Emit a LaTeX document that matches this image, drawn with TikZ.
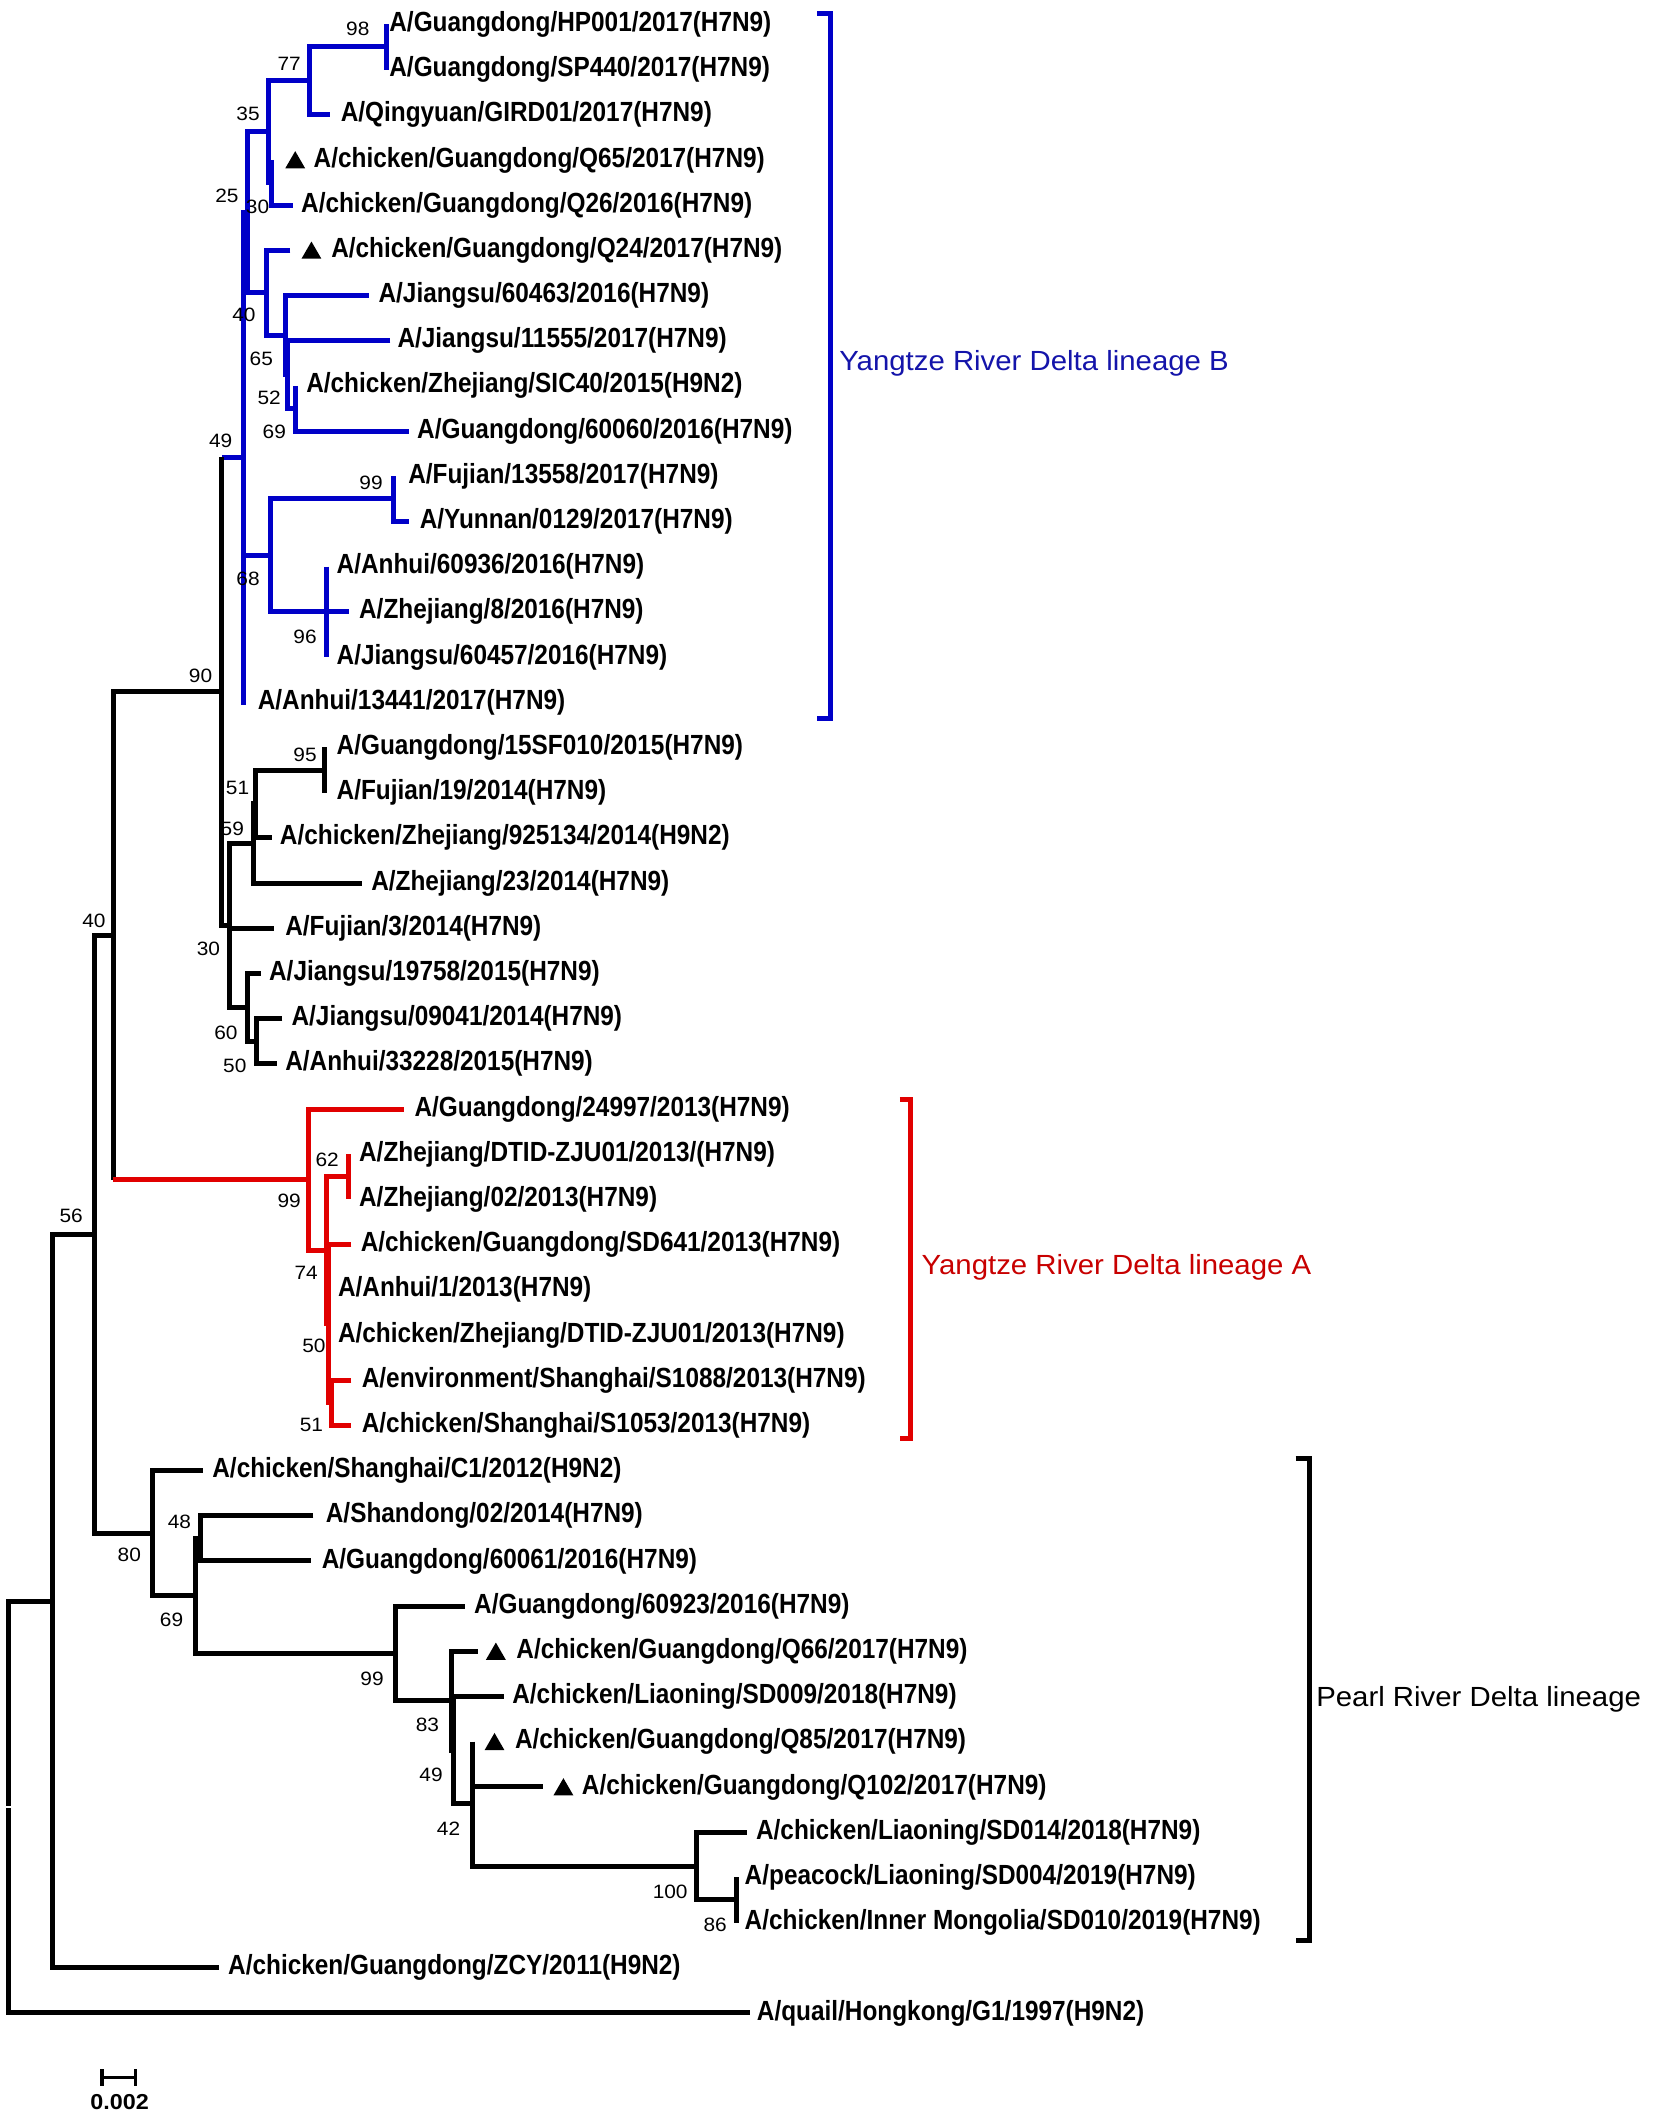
\documentclass[tikz,border=0pt]{standalone}
\usepackage{fontspec}
\usetikzlibrary{shapes.geometric,arrows.meta}
\newfontfamily\leaffont{Liberation Sans}[FakeStretch=0.88]
\newfontfamily\bootfont{Liberation Sans}[FakeStretch=1.08]
\newfontfamily\cladefont{Liberation Sans}[FakeStretch=1.06]
\definecolor{cladeB}{RGB}{0,0,200}
\definecolor{cladeBtext}{RGB}{20,20,170}
\definecolor{cladeA}{RGB}{225,0,0}
\definecolor{cladeAtext}{RGB}{200,0,0}
\begin{document}
\begin{tikzpicture}[x=1pt,y=-33.45pt,
  br/.style={line width=3.7pt,line join=miter},
  bbr/.style={br,color=cladeB},
  rbr/.style={br,color=cladeA},
  leaf/.style={anchor=west,inner sep=0pt,font={\leaffont\bfseries\fontsize{20.5}{22}\selectfont}},
  boot/.style={inner sep=0pt,font={\bootfont\fontsize{14.3}{16}\selectfont}},
  clade/.style={anchor=west,inner sep=0pt,font={\cladefont\fontsize{20.5}{23}\selectfont}},
  tri/.style={regular polygon,regular polygon sides=3,fill=black,inner sep=0pt,minimum size=17pt,yshift=-2pt}]
\path[use as bounding box,fill=white] (0,0.4619) rectangle (1224,47.37);

\coordinate (t1) at (286,1); \node[leaf] (s1) at (288,1) {A/Guangdong/HP001/2017(H7N9)};
\coordinate (t2) at (286,2); \node[leaf] (s2) at (288,2) {A/Guangdong/SP440/2017(H7N9)};
\coordinate (t3) at (244,3); \node[leaf] (s3) at (252,3) {A/Qingyuan/GIRD01/2017(H7N9)};
\coordinate (t4) at (201,4); \node[leaf] (s4) at (232,4) {A/chicken/Guangdong/Q65/2017(H7N9)};
\coordinate (t5) at (217,5); \node[leaf] (s5) at (222.7,5) {A/chicken/Guangdong/Q26/2016(H7N9)};
\coordinate (t6) at (215,6); \node[leaf] (s6) at (245,6) {A/chicken/Guangdong/Q24/2017(H7N9)};
\coordinate (t7) at (273,7); \node[leaf] (s7) at (280,7) {A/Jiangsu/60463/2016(H7N9)};
\coordinate (t8) at (289,8); \node[leaf] (s8) at (294,8) {A/Jiangsu/11555/2017(H7N9)};
\coordinate (t9) at (219,9); \node[leaf] (s9) at (226.5,9) {A/chicken/Zhejiang/SIC40/2015(H9N2)};
\coordinate (t10) at (303,10); \node[leaf] (s10) at (308.6,10) {A/Guangdong/60060/2016(H7N9)};
\coordinate (t11) at (291,11); \node[leaf] (s11) at (302,11) {A/Fujian/13558/2017(H7N9)};
\coordinate (t12) at (303,12); \node[leaf] (s12) at (310.5,12) {A/Yunnan/0129/2017(H7N9)};
\coordinate (t13) at (242,13); \node[leaf] (s13) at (249,13) {A/Anhui/60936/2016(H7N9)};
\coordinate (t14) at (258,14); \node[leaf] (s14) at (265.6,14) {A/Zhejiang/8/2016(H7N9)};
\coordinate (t15) at (242,15); \node[leaf] (s15) at (249,15) {A/Jiangsu/60457/2016(H7N9)};
\coordinate (t16) at (182,16); \node[leaf] (s16) at (190.6,16) {A/Anhui/13441/2017(H7N9)};
\coordinate (t17) at (240,17); \node[leaf] (s17) at (249,17) {A/Guangdong/15SF010/2015(H7N9)};
\coordinate (t18) at (240,18); \node[leaf] (s18) at (249,18) {A/Fujian/19/2014(H7N9)};
\coordinate (t19) at (201,19); \node[leaf] (s19) at (207,19) {A/chicken/Zhejiang/925134/2014(H9N2)};
\coordinate (t20) at (267.6,20); \node[leaf] (s20) at (274.6,20) {A/Zhejiang/23/2014(H7N9)};
\coordinate (t21) at (203,21); \node[leaf] (s21) at (211,21) {A/Fujian/3/2014(H7N9)};
\coordinate (t22) at (193,22); \node[leaf] (s22) at (199,22) {A/Jiangsu/19758/2015(H7N9)};
\coordinate (t23) at (209,23); \node[leaf] (s23) at (215.6,23) {A/Jiangsu/09041/2014(H7N9)};
\coordinate (t24) at (205,24); \node[leaf] (s24) at (211,24) {A/Anhui/33228/2015(H7N9)};
\coordinate (t25) at (299,25); \node[leaf] (s25) at (306.6,25) {A/Guangdong/24997/2013(H7N9)};
\coordinate (t26) at (258,26); \node[leaf] (s26) at (265.6,26) {A/Zhejiang/DTID-ZJU01/2013/(H7N9)};
\coordinate (t27) at (258,27); \node[leaf] (s27) at (265.6,27) {A/Zhejiang/02/2013(H7N9)};
\coordinate (t28) at (260,28); \node[leaf] (s28) at (266.8,28) {A/chicken/Guangdong/SD641/2013(H7N9)};
\coordinate (t29) at (243,29); \node[leaf] (s29) at (250,29) {A/Anhui/1/2013(H7N9)};
\coordinate (t30) at (243,30); \node[leaf] (s30) at (250,30) {A/chicken/Zhejiang/DTID-ZJU01/2013(H7N9)};
\coordinate (t31) at (260,31); \node[leaf] (s31) at (267.6,31) {A/environment/Shanghai/S1088/2013(H7N9)};
\coordinate (t32) at (260,32); \node[leaf] (s32) at (267.6,32) {A/chicken/Shanghai/S1053/2013(H7N9)};
\coordinate (t33) at (150,33); \node[leaf] (s33) at (157,33) {A/chicken/Shanghai/C1/2012(H9N2)};
\coordinate (t34) at (232,34); \node[leaf] (s34) at (241,34) {A/Shandong/02/2014(H7N9)};
\coordinate (t35) at (230,35); \node[leaf] (s35) at (238,35) {A/Guangdong/60061/2016(H7N9)};
\coordinate (t36) at (344,36); \node[leaf] (s36) at (350.8,36) {A/Guangdong/60923/2016(H7N9)};
\coordinate (t37) at (353.5,37); \node[leaf] (s37) at (382,37) {A/chicken/Guangdong/Q66/2017(H7N9)};
\coordinate (t38) at (373,38); \node[leaf] (s38) at (379,38) {A/chicken/Liaoning/SD009/2018(H7N9)};
\coordinate (t39) at (349.6,39); \node[leaf] (s39) at (381,39) {A/chicken/Guangdong/Q85/2017(H7N9)};
\coordinate (t40) at (402,40); \node[leaf] (s40) at (430.5,40) {A/chicken/Guangdong/Q102/2017(H7N9)};
\coordinate (t41) at (552.7,41); \node[leaf] (s41) at (559.4,41) {A/chicken/Liaoning/SD014/2018(H7N9)};
\coordinate (t42) at (545,42); \node[leaf] (s42) at (551,42) {A/peacock/Liaoning/SD004/2019(H7N9)};
\coordinate (t43) at (545,43); \node[leaf] (s43) at (551,43) {A/chicken/Inner Mongolia/SD010/2019(H7N9)};
\coordinate (t44) at (162,44); \node[leaf] (s44) at (168.7,44) {A/chicken/Guangdong/ZCY/2011(H9N2)};
\coordinate (t45) at (555,45); \node[leaf] (s45) at (560,45) {A/quail/Hongkong/G1/1997(H9N2)};

\node[tri] (m4) at (218.5,4) {};
\node[tri] (m6) at (230.5,6) {};
\node[tri] (m37) at (367,37) {};
\node[tri] (m39) at (366,39) {};
\node[tri] (m40) at (417,40) {};

\coordinate (n98) at (286,1.5);
\coordinate (n77) at (229,2.25);
\coordinate (n30b) at (201,4.5);
\coordinate (n35) at (199,3.375);
\coordinate (n69b) at (219,9.5);
\coordinate (n52) at (213,8.75);
\coordinate (n65) at (211,7.875);
\coordinate (n40b) at (197,6.9375);
\coordinate (n25) at (183.5,5.156);
\coordinate (n99b) at (291,11.5);
\coordinate (n96) at (242,14);
\coordinate (n68) at (200,12.75);
\coordinate (n49) at (180,10.578);
\coordinate (n95) at (240,17.5);
\coordinate (n51) at (189,18.25);
\coordinate (n59) at (187.5,19.125);
\coordinate (n50b) at (189.5,23.5);
\coordinate (n60) at (183.5,22.75);
\coordinate (n30) at (170,20.9375);
\coordinate (n90) at (164,15.758);
\coordinate (n62) at (258,26.5);
\coordinate (n51r) at (245,31.5);
\coordinate (n50r) at (243,29.75);
\coordinate (n74) at (242,28.125);
\coordinate (n99r) at (228.5,26.5625);
\coordinate (n40) at (84,21.16);
\coordinate (n48) at (148.4,34.5);
\coordinate (n86) at (545,42.5);
\coordinate (n100) at (515.6,41.75);
\coordinate (n42) at (349.6,40.375);
\coordinate (n49p) at (336,39.1875);
\coordinate (n83) at (334,38.09);
\coordinate (n99p) at (293,37.05);
\coordinate (n69) at (144.5,35.77);
\coordinate (n80) at (113,34.39);
\coordinate (n56) at (70,27.77);
\coordinate (n0) at (38.5,35.887);
\coordinate (root) at (6,40.44);

\draw[bbr] (t1) -| (n98) |- (t2);
\draw[bbr] (n98) -| (n77) |- (t3);
\draw[bbr] (t4) -| (n30b) |- (t5);
\draw[bbr] (n77) -| (n35) |- (n30b);
\draw[bbr] (t9) -| (n69b) |- (t10);
\draw[bbr] (t8) -| (n52) |- (n69b);
\draw[bbr] (t7) -| (n65) |- (n52);
\draw[bbr] (t6) -| (n40b) |- (n65);
\draw[bbr] (n35) -| (n25) |- (n40b);
\draw[bbr] (t11) -| (n99b) |- (t12);
\draw[bbr] (t13) -| (n96) |- (t15);
\draw[bbr] (n96) -- (t14);
\draw[bbr] (n99b) -| (n68) |- (n96);
\draw[bbr] (n25) -| (n49) |- (t16);
\draw[bbr] (n49) |- (n68);
\draw[bbr] (n49) -- (n49 -| n90);

\draw[br] (t17) -| (n95) |- (t18);
\draw[br] (n95) -| (n51) |- (t19);
\draw[br] (n51) -| (n59) |- (t20);
\draw[br] (t23) -| (n50b) |- (t24);
\draw[br] (t22) -| (n60) |- (n50b);
\draw[br] (n59) -| (n30) |- (n60);
\draw[br] (n30) |- (t21);
\draw[br] (n49 -| n90) |- (n30);
\draw[br] (n90) -| (n40) -- (n99r -| n40);

\draw[rbr] (t26) -| (n62) |- (t27);
\draw[rbr] (t31) -| (n51r) |- (t32);
\draw[rbr] (t28) -| (n50r) |- (n51r);
\draw[rbr] (n50r) |- (t29);
\draw[rbr] (n50r) |- (t30);
\draw[rbr] (n62) -| (n74) |- (n50r);
\draw[rbr] (t25) -| (n99r) |- (n74);
\draw[rbr] (n99r) -- (n99r -| n40);

\draw[br] (t34) -| (n48) |- (t35);
\draw[br] (t42) -| (n86) |- (t43);
\draw[br] (t41) -| (n100) |- (n86);
\draw[br] (t39) -| (n42) |- (n100);
\draw[br] (n42) |- (t40);
\draw[br] (t38) -| (n49p) |- (n42);
\draw[br] (t37) -| (n83) |- (n49p);
\draw[br] (t36) -| (n99p) |- (n83);
\draw[br] (n48) -| (n69) |- (n99p);
\draw[br] (t33) -| (n80) |- (n69);
\draw[br] (n40) -| (n56) |- (n80);
\draw[br] (n56) -| (n0) |- (t44);
\draw[br] (n0) -| (root) |- (t45);
\draw[white,line width=1.5pt] ([xshift=-3pt]root) -- ([xshift=3pt]root);

\node[boot] (b98) at (264.8,1.111) {98};
\node[boot] (b77) at (214,1.873) {77};
\node[boot] (b35) at (183.6,2.979) {35};
\node[boot] (b25) at (168,4.797) {25};
\node[boot] (b30b) at (190.6,5.036) {30};
\node[boot] (b40b) at (180.5,7.419) {40};
\node[boot] (b65) at (193.4,8.393) {65};
\node[boot] (b52) at (199.2,9.269) {52};
\node[boot] (b69b) at (203,10.011) {69};
\node[boot] (b49) at (163.3,10.223) {49};
\node[boot] (b99b) at (274.6,11.135) {99};
\node[boot] (b68) at (183.6,13.278) {68};
\node[boot] (b96) at (225.8,14.543) {96};
\node[boot] (b90) at (148.4,15.41) {90};
\node[boot] (b95) at (225.8,17.153) {95};
\node[boot] (b51) at (175.8,17.903) {51};
\node[boot] (b59) at (171.9,18.812) {59};
\node[boot] (b40) at (69.5,20.83) {40};
\node[boot] (b30) at (154.3,21.463) {30};
\node[boot] (b60) at (167.2,23.32) {60};
\node[boot] (b50b) at (173.8,24.056) {50};
\node[boot] (b62) at (242.2,26.124) {62};
\node[boot] (b99r) at (214,27.039) {99};
\node[boot] (b74) at (226.6,28.62) {74};
\node[boot] (b50r) at (232.4,30.238) {50};
\node[boot] (b51r) at (230.5,32.001) {51};
\node[boot] (b56) at (52.7,27.371) {56};
\node[boot] (b48) at (132.8,34.13) {48};
\node[boot] (b80) at (95.7,34.866) {80};
\node[boot] (b69) at (127,36.301) {69};
\node[boot] (b99p) at (275.4,37.598) {99};
\node[boot] (b83) at (316.4,38.626) {83};
\node[boot] (b49p) at (319,39.732) {49};
\node[boot] (b42) at (332,40.917) {42};
\node[boot] (b100) at (496,42.328) {100};
\node[boot] (b86) at (529.3,43.051) {86};

\draw[bbr] (605,0.761) -| (615,16.366) -- (605,16.366);
\node[clade,text=cladeBtext] (cladeB) at (621,8.504) {Yangtze River Delta lineage B};
\draw[rbr] (666,24.8) -| (674,32.3) -- (666,32.3);
\node[clade,text=cladeAtext] (cladeA) at (682,28.5) {Yangtze River Delta lineage A};
\draw[br] (959,32.74) -| (969,43.39) -- (959,43.39);
\node[clade] (pearl) at (974,38.06) {Pearl River Delta lineage};

\coordinate (sbl) at (74.2,46.43);
\coordinate (sbr) at (101.6,46.43);
\draw[br,line width=2.5pt,{Bar[width=12pt]}-{Bar[width=12pt]}] (sbl) -- (sbr);
\node[boot,font={\bootfont\bfseries\fontsize{16}{18}\selectfont}] (sblab) at (88.5,46.97) {0.002};
\end{tikzpicture}
\end{document}
